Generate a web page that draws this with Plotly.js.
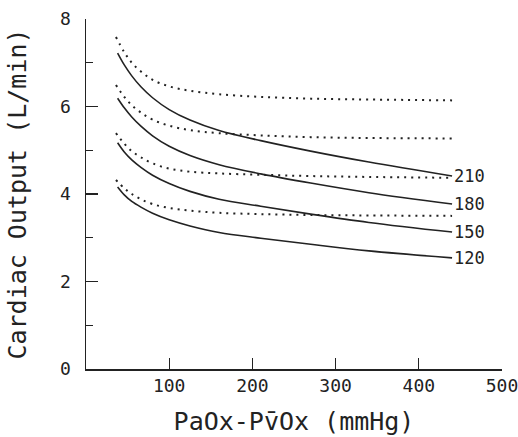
<!DOCTYPE html>
<html>
<head>
<meta charset="utf-8">
<script src="https://cdn.plot.ly/plotly-3.0.1.min.js"></script>
<style>html,body{margin:0;padding:0;background:#fff;}#chart{width:518px;height:437px;}</style>
</head>
<body>
<div id="chart"></div>
<script>
// PaOx - PvOx (mmHg)
const solidX = [38, 46, 55, 66, 80, 100, 125, 160, 210, 270, 340, 440];
const dotX   = [36, 46, 55, 66, 80, 100, 125, 160, 210, 270, 340, 440];
const curveLabels = ['210', '180', '150', '120'];
// solid curves (Cardiac Output, L/min)
const solid210 = [7.22, 6.95, 6.70, 6.45, 6.20, 5.93, 5.69, 5.45, 5.22, 4.98, 4.73, 4.41];
const solid180 = [6.19, 5.97, 5.76, 5.55, 5.33, 5.09, 4.88, 4.67, 4.46, 4.25, 4.03, 3.77];
const solid150 = [5.17, 4.96, 4.78, 4.61, 4.43, 4.24, 4.06, 3.88, 3.72, 3.54, 3.35, 3.13];
const solid120 = [4.16, 3.98, 3.83, 3.70, 3.56, 3.41, 3.27, 3.12, 2.99, 2.85, 2.70, 2.54];
// dotted curves
const dotted210 = [7.59, 7.24, 7.00, 6.80, 6.61, 6.46, 6.36, 6.28, 6.22, 6.18, 6.16, 6.14];
const dotted180 = [6.49, 6.22, 6.03, 5.86, 5.70, 5.56, 5.46, 5.39, 5.34, 5.30, 5.28, 5.27];
const dotted150 = [5.39, 5.15, 4.98, 4.84, 4.70, 4.58, 4.51, 4.47, 4.44, 4.41, 4.39, 4.37];
const dotted120 = [4.32, 4.13, 4.00, 3.88, 3.77, 3.68, 3.62, 3.57, 3.54, 3.52, 3.51, 3.50];

const xTicks = [100, 200, 300, 400, 500];
const yTicks = [0, 2, 4, 6, 8];
const yMinorTicks = [1, 3, 5, 7];

const solids = [solid210, solid180, solid150, solid120];
const dotteds = [dotted210, dotted180, dotted150, dotted120];
const ink = '#222';
const font = 'DejaVu Sans Mono, monospace';

const traces = [];
dotteds.forEach(d => traces.push({
  x: dotX, y: d, mode: 'lines', type: 'scatter', hoverinfo: 'skip',
  line: {color: ink, width: 2, dash: '2px,5px', shape: 'spline', smoothing: 1}
}));
solids.forEach(s => traces.push({
  x: solidX, y: s, mode: 'lines', type: 'scatter', hoverinfo: 'skip',
  line: {color: ink, width: 1.6, shape: 'spline', smoothing: 1}
}));

const annotations = solids.map((s, i) => ({
  x: solidX[solidX.length - 1], y: s[s.length - 1], xref: 'x', yref: 'y',
  text: curveLabels[i], showarrow: false, xanchor: 'left', yanchor: 'middle',
  xshift: 0, font: {family: font, size: 17, color: ink}
}));

const layout = {
  width: 518, height: 437,
  margin: {l: 86, r: 16, t: 19, b: 68},
  paper_bgcolor: '#fff', plot_bgcolor: '#fff',
  showlegend: false,
  font: {family: font, color: ink},
  xaxis: {
    range: [0, 500.01], showgrid: false, zeroline: false,
    showline: true, linecolor: ink, linewidth: 1.5,
    ticks: 'inside', ticklen: 11, tickwidth: 1.3, tickcolor: ink,
    tickvals: xTicks, ticktext: xTicks.map(String),
    ticklabeloverflow: 'allow',
    tickfont: {family: font, size: 18, color: ink},
    title: {text: 'PaOx-Pv\u0304Ox (mmHg)', font: {family: font, size: 25, color: ink}, standoff: 17}
  },
  yaxis: {
    range: [0, 8], showgrid: false, zeroline: false,
    showline: true, linecolor: ink, linewidth: 1.5,
    ticks: 'inside', ticklen: 12, tickwidth: 1.3, tickcolor: ink,
    tickvals: yTicks, ticktext: yTicks.map(String),
    ticklabelstandoff: 10,
    tickfont: {family: font, size: 18, color: ink},
    minor: {tickvals: yMinorTicks, ticks: 'inside', ticklen: 7, tickwidth: 1.3, tickcolor: ink, showgrid: false},
    title: {text: 'Cardiac Output (L/min)', font: {family: font, size: 25, color: ink}, standoff: 26}
  },
  annotations: annotations
};

Plotly.newPlot('chart', traces, layout, {staticPlot: true, displayModeBar: false});
</script>
</body>
</html>
